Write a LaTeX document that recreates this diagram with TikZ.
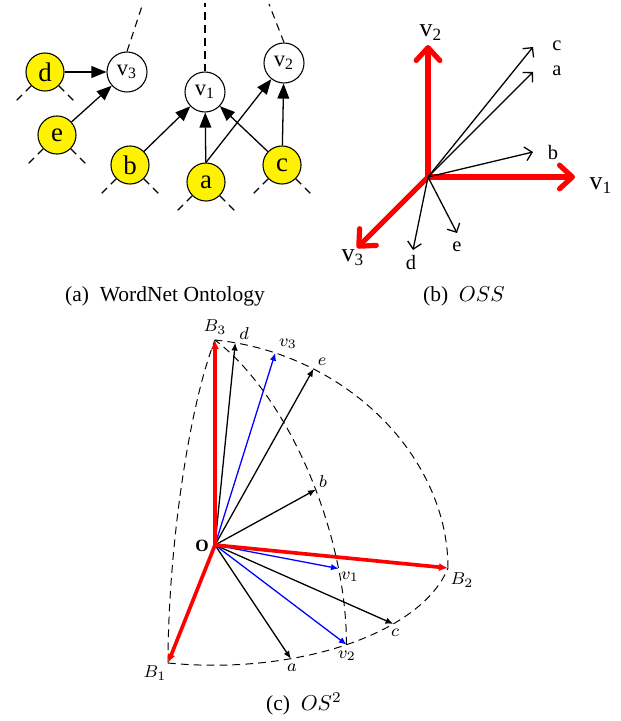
\documentclass[tikz,border=0pt]{standalone}
\usepackage{fontspec}
\setmainfont{Liberation Serif}
\usetikzlibrary{arrows.meta}
\begin{document}
\begin{tikzpicture}[x=0.465pt,y=-0.465pt,
  ynode/.style={circle,draw,fill=yellow,minimum size=17.7pt,inner sep=0pt,line width=0.5pt,font=\fontsize{12.5}{14}\selectfont},
  wnode/.style={circle,draw,fill=white,minimum size=18.6pt,inner sep=0pt,line width=0.5pt,font=\fontsize{10.5}{12}\selectfont},
  arr/.style={line width=0.6pt,-{Triangle[length=7pt,width=5.5pt]}},
  stub/.style={line width=0.5pt,dash pattern=on 3.5pt off 2.5pt},
  redaxis/.style={red,line width=2.4pt,line cap=round,-{Straight Barb[length=6pt,width=11pt,round]}},
  barr/.style={line width=0.6pt,-{Straight Barb[length=3.2pt,width=6.5pt]}},
  blab/.style={font=\fontsize{9.5}{11}\selectfont,inner sep=0pt},
  vlab/.style={font=\fontsize{12}{14}\selectfont,inner sep=0pt},
  carr/.style={line width=0.6pt,-{Latex[length=3.6pt,width=3pt]}},
  cblue/.style={carr,blue},
  cred/.style={red,line width=1.7pt,-{Latex[length=4.2pt,width=3.8pt]}},
  arcd/.style={line width=0.45pt,dash pattern=on 3.6pt off 2.4pt},
  clab/.style={font=\fontsize{8}{9.6}\selectfont,inner sep=0pt},
  capt/.style={font=\fontsize{10}{12}\selectfont,inner sep=0pt}
]
\useasboundingbox (0,0) rectangle (621,721);

% ---------------- (a) WordNet Ontology ----------------
\node[ynode] (d) at (45,72) {d};
\node[wnode] (v3) at (127,72) {v\textsubscript{3}};
\node[ynode] (e) at (57,135) {e};
\node[wnode] (v1) at (205,92) {v\textsubscript{1}};
\node[wnode] (v2) at (284,63) {v\textsubscript{2}};
\node[ynode] (b) at (130,165) {b};
\node[ynode] (a) at (206,182) {a};
\node[ynode] (c) at (282,165) {c};

\coordinate (v3end) at (143,3);
\coordinate (v1end) at (205,3);
\coordinate (v2end) at (269,4);
\draw[stub] (v3.north) -- (v3end);
\draw[stub] (v1.north) -- (v1end);
\draw[stub] (v2.north) -- (v2end);

\foreach \n in {d,e,b,a,c}{
  \draw[stub] (\n.-135) -- ++(-16,16);
  \draw[stub] (\n.-45) -- ++(16,16);
}

\draw[arr] (d) -- (v3);
\draw[arr] (e) -- (v3);
\draw[arr] (b) -- (v1);
\draw[arr] (a) -- (v1);
\draw[arr] (c) -- (v1);
\draw[arr] (a.north) -- (v2);
\draw[arr] (c) -- (v2);

\node[capt] (capa) at (165,296) {(a)\ \ WordNet Ontology};

% ---------------- (b) OSS ----------------
\coordinate (bo) at (428,177);
\coordinate (bv1) at (575,177);
\coordinate (bv2) at (428,45);
\coordinate (bv3) at (357,248);
\coordinate (bc) at (533,47);
\coordinate (ba) at (533,72);
\coordinate (bb) at (533,152);
\coordinate (bd) at (413,250);
\coordinate (be) at (457,233);

\draw[redaxis] (bo) -- (bv1);
\draw[redaxis] (bo) -- (bv2);
\draw[redaxis] (bo) -- (bv3);
\draw[barr] (bo) -- (bc);
\draw[barr] (bo) -- (ba);
\draw[barr] (bo) -- (bb);
\draw[barr] (bo) -- (bd);
\draw[barr] (bo) -- (be);

\node[vlab] (lv2) at (431,33) {v\textsubscript{2}};
\node[vlab] (lv1) at (601,186) {v\textsubscript{1}};
\node[vlab] (lv3) at (353,258) {v\textsubscript{3}};
\node[blab] (lc) at (557,46) {c};
\node[blab] (la) at (557,71) {a};
\node[blab] (lb) at (553,153) {b};
\node[blab] (ld) at (411,263) {d};
\node[blab] (le) at (457,247) {e};

\node[capt] (capb) at (464,296) {(b)\ \ $OSS$};

% ---------------- (c) OS^2 ----------------
\coordinate (O) at (215,545);
\coordinate (B1) at (168,663);
\coordinate (B2) at (448,568);
\coordinate (B3) at (215,340);
\coordinate (ca) at (290.8,658.7);
\coordinate (cc) at (393.3,623.9);
\coordinate (cv2) at (346.6,644.7);
\coordinate (cv1) at (338.7,568.6);
\coordinate (cb) at (315.8,489.6);
\coordinate (cd) at (235.3,342.8);
\coordinate (cv3) at (275.3,352.9);
\coordinate (ce) at (313.5,368.9);

% dashed great-circle arcs
\draw[arcd] plot[domain=0:90,samples=60,smooth] ({215-47*cos(\x)},{545+118*cos(\x)-205*sin(\x)});
\draw[arcd] plot[domain=0:90,samples=60,smooth] ({215-47*cos(\x)+233*sin(\x)},{545+118*cos(\x)+23*sin(\x)});
\draw[arcd] plot[domain=0:90,samples=60,smooth] ({215+233*cos(\x)},{545+23*cos(\x)-205*sin(\x)});
\draw[arcd] plot[domain=0:90,samples=60,smooth] ({215+131.5*cos(\x)},{545+99.7*cos(\x)-205*sin(\x)});

\draw[carr] (O) -- (cd);
\draw[carr] (O) -- (ce);
\draw[carr] (O) -- (cb);
\draw[carr] (O) -- (cc);
\draw[carr] (O) -- (ca);
\draw[cblue] (O) -- (cv3);
\draw[cblue] (O) -- (cv1);
\draw[cblue] (O) -- (cv2);
\draw[cred] (O) -- (B1);
\draw[cred] (O) -- (B2);
\draw[cred] (O) -- (B3);

\node[clab] (lB3) at (215,327) {$B_3$};
\node[clab] (lcd) at (244,334) {$d$};
\node[clab] (lcv3) at (288,344) {$v_3$};
\node[clab] (lce) at (322,362) {$e$};
\node[clab] (lcb) at (323,482) {$b$};
\node[clab] (lO) at (202,546) {$\mathbf{O}$};
\node[clab] (lcv1) at (350,577) {$v_1$};
\node[clab] (lB2) at (462,580) {$B_2$};
\node[clab] (lcc) at (395,633) {$c$};
\node[clab] (lcv2) at (347,656) {$v_2$};
\node[clab] (lca) at (292,668) {$a$};
\node[clab] (lB1) at (155,673) {$B_1$};

\node[capt] (capc) at (304,704) {(c)\ \ $OS^2$};
\end{tikzpicture}
\end{document}
